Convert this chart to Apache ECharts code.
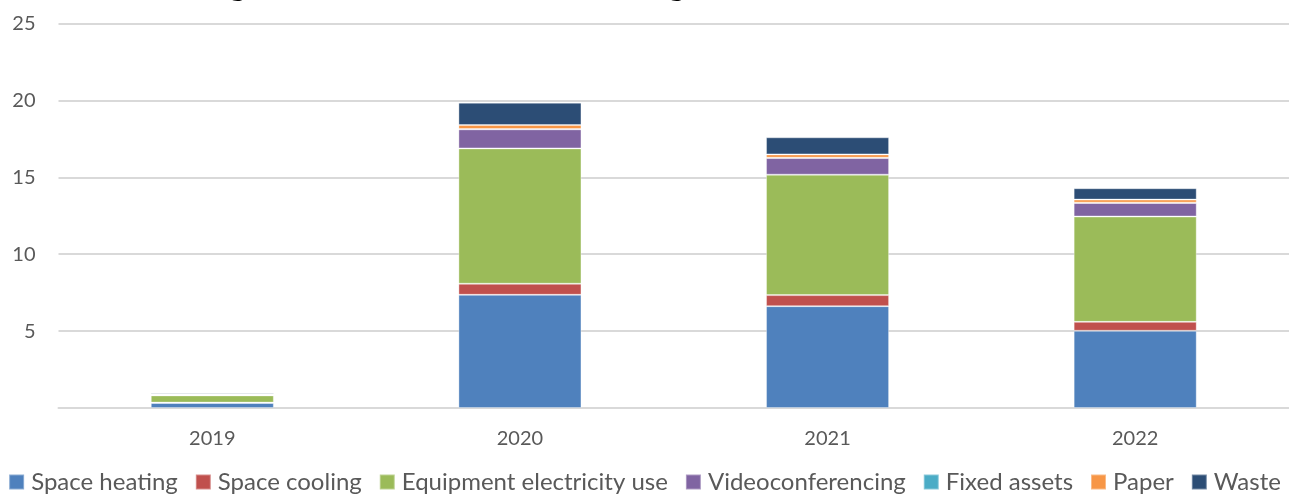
<!DOCTYPE html>
<html>
<head>
<meta charset="utf-8">
<script src="https://cdn.jsdelivr.net/npm/echarts@6/dist/echarts.min.js"></script>
<style>
  html, body { margin: 0; padding: 0; background: #ffffff; }
  #chart { width: 1289px; height: 494px; }
</style>
</head>
<body>
<div id="chart"></div>
<script>
// Years shown on the category axis
const years = ['2019', '2020', '2021', '2022'];

// Emissions per source, one value per year
const spaceHeating      = [0.33, 7.36, 6.62, 5.02];
const spaceCooling      = [0.02, 0.72, 0.72, 0.58];
const equipmentElec     = [0.47, 8.80, 7.83, 6.85];
const videoconferencing = [0.06, 1.24, 1.08, 0.88];
const fixedAssets       = [0.00, 0.02, 0.02, 0.02];
const paper             = [0.01, 0.26, 0.22, 0.20];
const waste             = [0.08, 1.45, 1.11, 0.74];

// Value axis ticks
const yTicks = [0, 5, 10, 15, 20, 25];

const seriesDefs = [
  { name: 'Space heating',              data: spaceHeating,      color: '#4F81BD' },
  { name: 'Space cooling',              data: spaceCooling,      color: '#C0504D' },
  { name: 'Equipment electricity use',  data: equipmentElec,     color: '#9BBB59' },
  { name: 'Videoconferencing',          data: videoconferencing, color: '#8064A2' },
  { name: 'Fixed assets',               data: fixedAssets,       color: '#4BACC6' },
  { name: 'Paper',                      data: paper,             color: '#F79646' },
  { name: 'Waste',                      data: waste,             color: '#2C4D75' }
];

const FONT = 'Lato, "Open Sans", sans-serif';

const chart = echarts.init(document.getElementById('chart'), null, { renderer: 'canvas' });

chart.setOption({
  animation: false,
  backgroundColor: '#ffffff',
  title: {
    text: 'Digital emissions from working at home in tonnes of CO\u2082',
    left: 'center',
    top: -39.5,
    padding: [5, 45, 5, 5],
    textStyle: { fontFamily: FONT, fontSize: 36, fontWeight: 'bold', color: '#000000' }
  },
  legend: {
    bottom: 0,
    left: 'center',
    padding: 0,
    itemWidth: 15,
    itemHeight: 15,
    itemGap: 17,
    icon: 'rect',
    textStyle: { fontFamily: FONT, fontSize: 24, color: '#595959', padding: [0, 0, 0, 2] },
    data: seriesDefs.map(s => s.name)
  },
  grid: {
    left: 58.5,
    right: -5.5,
    top: 23.5,
    bottom: 86,
    containLabel: false
  },
  xAxis: {
    type: 'category',
    data: years,
    axisLine: { show: true, lineStyle: { color: '#D9D9D9', width: 2 } },
    axisTick: { show: false },
    axisLabel: { fontFamily: FONT, fontSize: 20, color: '#595959', margin: 21 }
  },
  yAxis: {
    type: 'value',
    min: yTicks[0],
    max: yTicks[yTicks.length - 1],
    interval: yTicks[1] - yTicks[0],
    axisLine: { show: false },
    axisTick: { show: false },
    splitLine: { lineStyle: { color: '#D9D9D9', width: 2 } },
    axisLabel: {
      fontFamily: FONT, fontSize: 20, color: '#595959', margin: 23,
      formatter: v => (v === 0 ? '' : String(v))
    }
  },
  series: seriesDefs.map(s => ({
    name: s.name,
    type: 'bar',
    stack: 'total',
    barWidth: '40%',
    data: s.data,
    itemStyle: { color: s.color, borderColor: 'rgba(255,255,255,0.35)', borderWidth: 1 },
    emphasis: { disabled: true }
  }))
});
</script>
</body>
</html>
